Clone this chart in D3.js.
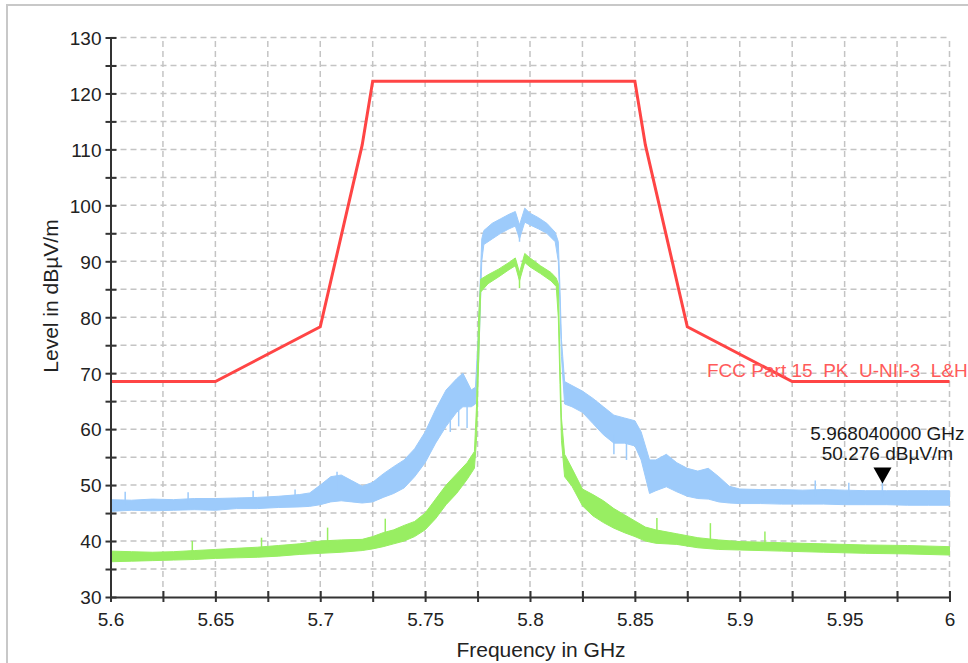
<!DOCTYPE html>
<html><head><meta charset="utf-8">
<script src="https://cdn.jsdelivr.net/npm/d3@7"></script>
<style>
body{margin:0;background:#fff}
svg{display:block}
text{font-family:"Liberation Sans",Arial,sans-serif}
</style>
</head><body>
<svg id="c" width="968" height="663"></svg>
<script>
// ---------- data ----------
const xTicks = [5.6,5.625,5.65,5.675,5.7,5.725,5.75,5.775,5.8,5.825,5.85,5.875,5.9,5.925,5.95,5.975,6.0];
const xTickLabels = ["5.6","","5.65","","5.7","","5.75","","5.8","","5.85","","5.9","","5.95","","6"];
const yTicks = [30,35,40,45,50,55,60,65,70,75,80,85,90,95,100,105,110,115,120,125,130];
const yTickLabels = ["30","","40","","50","","60","","70","","80","","90","","100","","110","","120","","130"];

const limitFreq  = [5.6, 5.65, 5.7, 5.72, 5.725, 5.85, 5.855, 5.875, 5.925, 6.0];
const limitLevel = [68.5, 68.5, 78.3, 110.8, 122.2, 122.2, 110.8, 78.3, 68.5, 68.5];
const limitLabel = "FCC Part 15  PK  U-NII-3  L&H";

const blueFreq = [5.600,5.610,5.620,5.630,5.640,5.650,5.660,5.670,5.680,5.690,5.695,5.700,5.705,5.710,5.715,5.720,5.725,5.730,5.735,5.740,5.745,5.750,5.755,5.760,5.765,5.768,5.772,5.774,5.7755,5.777,5.778,5.782,5.786,5.790,5.793,5.795,5.7975,5.800,5.804,5.808,5.812,5.8135,5.8143,5.815,5.8165,5.820,5.825,5.830,5.835,5.840,5.845,5.850,5.853,5.857,5.860,5.865,5.870,5.875,5.880,5.885,5.890,5.895,5.900,5.910,5.920,5.930,5.940,5.950,5.960,5.970,5.980,5.990,6.000];
const blueLow  = [45.3,45.5,45.4,45.5,45.6,45.5,45.8,45.8,46.0,46.1,46.2,46.5,47.0,47.2,47.0,46.8,47.0,47.8,48.5,49.5,51.5,54.0,57.5,60.5,63.0,64.0,64.0,64.5,72.0,90.0,93.0,94.0,95.0,95.8,96.3,94.0,97.0,96.5,95.8,95.0,93.5,90.0,82.0,73.0,64.5,64.0,63.0,61.0,59.0,57.5,57.5,57.0,54.5,48.5,49.0,49.7,48.8,48.0,47.6,47.5,47.0,46.8,46.7,46.7,46.6,46.6,46.6,46.5,46.5,46.5,46.4,46.4,46.4];
const blueHigh = [47.4,47.3,47.5,47.4,47.6,47.6,47.7,47.8,48.0,48.3,48.6,50.0,51.5,51.8,50.8,49.8,50.5,52.0,53.3,54.5,56.5,59.5,63.5,67.0,69.0,70.0,67.0,67.5,78.0,94.0,95.5,96.8,97.6,98.4,98.9,96.5,99.5,98.6,97.8,96.8,95.2,93.5,85.0,76.0,68.5,67.8,66.8,65.5,64.0,62.5,62.0,61.5,59.5,54.5,54.5,55.5,54.0,53.0,52.5,53.0,51.5,49.8,49.3,49.2,49.2,49.1,49.2,49.1,49.0,49.0,49.0,49.0,49.0];
const blueSpikes = [[5.607,46.5,48.8],[5.637,46.5,48.7],[5.668,47.0,49.0],[5.688,47.0,49.2],[5.708,49.0,52.4],[5.762,64.0,59.5],[5.766,66.0,60.5],[5.770,65.0,60.2],[5.795,96.0,93.5],[5.840,59.0,55.5],[5.846,58.0,54.5],[5.936,48.0,50.8],[5.952,48.0,50.4],[5.968,48.0,50.6]];

const greenFreq = [5.600,5.610,5.620,5.630,5.640,5.650,5.660,5.670,5.680,5.690,5.700,5.710,5.720,5.725,5.730,5.735,5.740,5.745,5.750,5.755,5.760,5.765,5.770,5.7735,5.7745,5.7755,5.7765,5.780,5.785,5.790,5.793,5.795,5.7975,5.800,5.805,5.810,5.8125,5.8135,5.8143,5.815,5.8165,5.820,5.825,5.830,5.835,5.840,5.845,5.850,5.855,5.860,5.870,5.880,5.890,5.900,5.920,5.940,5.960,5.980,6.000];
const greenLow  = [36.3,36.4,36.5,36.6,36.7,36.9,37.0,37.1,37.3,37.6,37.8,38.0,38.3,38.6,39.0,39.5,40.0,40.8,42.0,44.0,46.5,48.5,51.0,53.0,58.0,72.0,84.5,86.0,87.2,88.5,89.2,86.5,89.8,89.0,87.8,86.5,85.5,80.0,68.0,58.0,51.5,49.8,46.3,44.5,43.3,42.3,41.5,40.8,40.0,39.6,39.4,38.8,38.5,38.4,38.2,38.0,37.8,37.7,37.5];
const greenHigh = [38.2,38.1,38.0,38.1,38.3,38.5,38.7,38.9,39.2,39.5,40.0,40.2,40.3,40.8,41.5,42.0,42.8,43.5,45.0,47.5,50.0,52.0,54.0,56.0,64.0,80.0,86.8,87.6,88.6,89.8,90.6,88.0,91.4,90.6,89.2,88.0,87.0,86.0,72.0,62.0,55.5,53.0,49.3,48.3,47.2,45.8,44.7,43.6,42.5,42.0,41.3,40.6,40.2,39.9,39.7,39.5,39.3,39.2,39.0];
const greenSpikes = [[5.639,37.5,40.0],[5.672,38.0,40.6],[5.7035,39.0,42.4],[5.731,40.0,44.0],[5.795,88.0,85.2],[5.8605,41.0,44.1],[5.886,40.0,43.2],[5.912,39.5,41.7]];

const markerFreq = 5.968040000;
const markerLevel = 50.276;
const markerText = ["5.968040000 GHz", "50.276 dBµV/m"];

const xTitle = "Frequency in GHz";
const yTitle = "Level in dBµV/m";

// ---------- chart ----------
const svg = d3.select("#c");
const x = d3.scaleLinear().domain([5.6, 6.0]).range([110.5, 949.5]);
const y = d3.scaleLinear().domain([30, 130]).range([597, 37.5]);

// outer frame
svg.append("rect").attr("x", 7).attr("y", 5).attr("width", 1000).attr("height", 700)
  .attr("fill", "none").attr("stroke", "#c8c8c8").attr("stroke-width", 2);

svg.append("clipPath").attr("id", "plot").append("rect")
  .attr("x", x(5.6)).attr("y", y(130) - 2).attr("width", x(6) - x(5.6) + 2).attr("height", y(30) - y(130) + 2);

// grid
const grid = svg.append("g").attr("stroke", "#c4c4c4").attr("stroke-width", 1.5).attr("stroke-dasharray", "6,4");
grid.selectAll("line.v").data(xTicks.slice(1)).join("line")
  .attr("x1", d => x(d)).attr("x2", d => x(d)).attr("y1", y(30)).attr("y2", y(130));
grid.selectAll("line.h").data(yTicks.slice(1)).join("line").attr("class", "h")
  .attr("y1", d => y(d)).attr("y2", d => y(d)).attr("x1", x(5.6)).attr("x2", x(6));

const plot = svg.append("g").attr("clip-path", "url(#plot)");

function drawTrace(freq, lo, hi, spikes, color) {
  const rows = freq.map((f, i) => ({f, lo: lo[i], hi: hi[i]}));
  const area = d3.area().x(d => x(d.f)).y0(d => y(d.lo)).y1(d => y(d.hi));
  plot.append("path").datum(rows).attr("d", area).attr("fill", color)
    .attr("stroke", color).attr("stroke-width", 1);
  plot.append("g").selectAll("line").data(spikes).join("line")
    .attr("x1", d => x(d[0])).attr("x2", d => x(d[0]))
    .attr("y1", d => y(d[1])).attr("y2", d => y(d[2]))
    .attr("stroke", color).attr("stroke-width", 1.5);
}
drawTrace(blueFreq, blueLow, blueHigh, blueSpikes, "#9dcbfb");
drawTrace(greenFreq, greenLow, greenHigh, greenSpikes, "#98ee62");

// limit line
const limitRows = limitFreq.map((f, i) => ({f, v: limitLevel[i]}));
plot.append("path").datum(limitRows)
  .attr("d", d3.line().x(d => x(d.f)).y(d => y(d.v)))
  .attr("fill", "none").attr("stroke", "#ff4545").attr("stroke-width", 3);

svg.append("text").attr("x", 707).attr("y", 376.5).attr("font-size", 19)
  .style("white-space", "pre").attr("xml:space", "preserve")
  .attr("fill", "#ff5a5a").text(limitLabel);

// marker
const mx = x(markerFreq), my = y(markerLevel);
svg.append("path").attr("d", `M${mx},${my} L${mx-9},${my-16} L${mx+9},${my-16} Z`).attr("fill", "#000");
svg.append("g").attr("font-size", 19).attr("fill", "#1a1a1a").attr("text-anchor", "middle")
  .selectAll("text").data(markerText).join("text")
  .attr("x", mx + 5).attr("y", (d, i) => 439.5 + i * 20.5).text(d => d);

// axes
const xAxis = d3.axisBottom(x).tickValues(xTicks).tickFormat((d, i) => xTickLabels[i]).tickSizeInner(5).tickSizeOuter(0).tickPadding(10);
const gx = svg.append("g").attr("transform", `translate(0,${y(30)})`).call(xAxis);
gx.select(".domain").attr("stroke", "#333").attr("stroke-width", 2);
gx.selectAll(".tick line").attr("y1", -6).attr("y2", 5).attr("stroke", "#333").attr("stroke-width", 2);
gx.selectAll(".tick text").attr("font-size", 19).attr("fill", "#222").attr("y", 16).attr("dy", "0.71em");

const yAxis = d3.axisLeft(y).tickValues(yTicks).tickFormat((d, i) => yTickLabels[i]).tickSizeInner(5).tickSizeOuter(0);
const gy = svg.append("g").attr("transform", `translate(${x(5.6)},0)`).call(yAxis);
gy.select(".domain").attr("stroke", "#333").attr("stroke-width", 2);
gy.selectAll(".tick line").attr("x1", -5).attr("x2", 6).attr("stroke", "#333").attr("stroke-width", 2);
gy.selectAll(".tick text").attr("font-size", 19).attr("fill", "#222").attr("x", -9).attr("dy", "0.36em");
gx.attr("font-family", null); gy.attr("font-family", null);

svg.append("text").attr("x", 541).attr("y", 657).attr("text-anchor", "middle")
  .attr("font-size", 21).attr("fill", "#222").text(xTitle);
svg.append("text").attr("transform", "translate(58,296) rotate(-90)").attr("text-anchor", "middle")
  .attr("font-size", 21).attr("fill", "#222").text(yTitle);
</script>
</body></html>
